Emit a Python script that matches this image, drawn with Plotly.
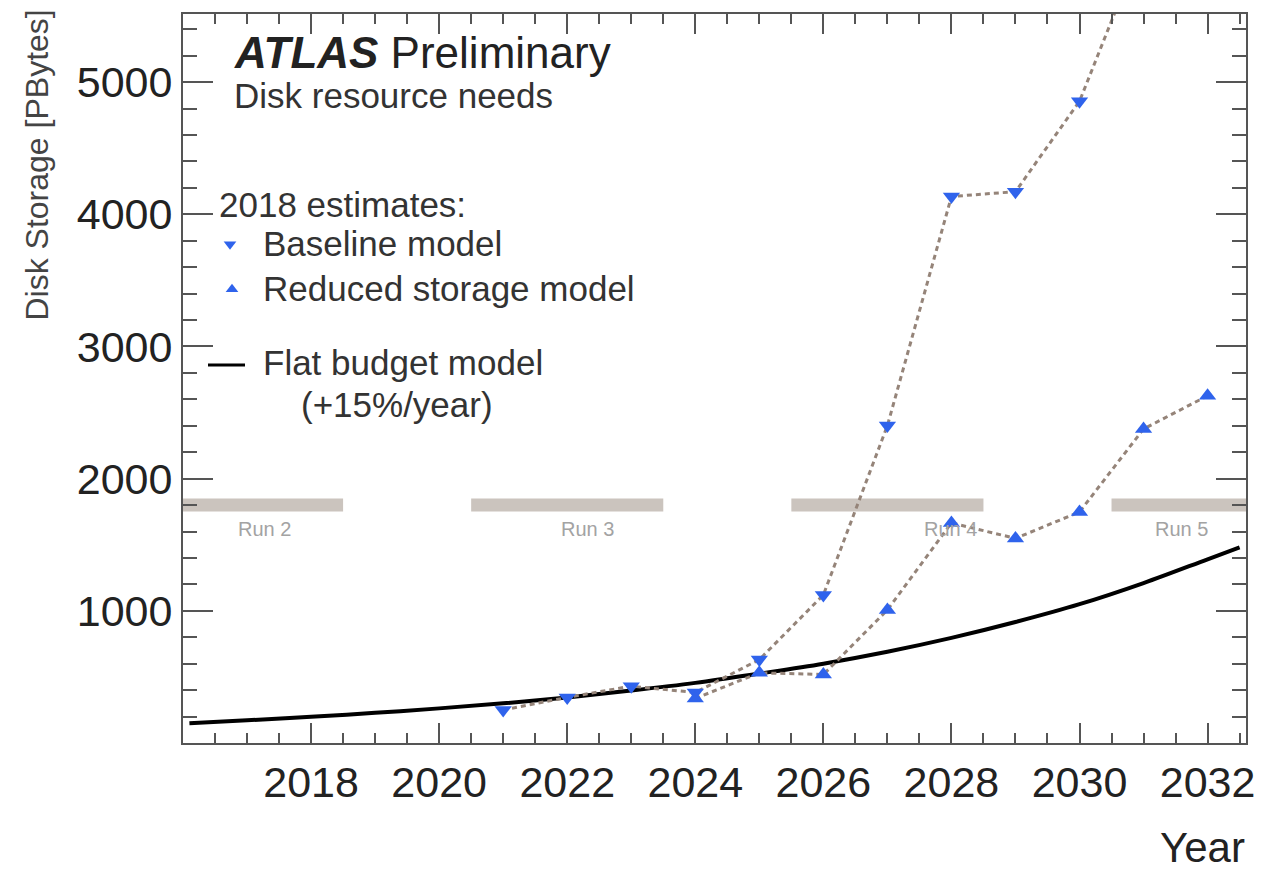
import plotly.graph_objects as go

# ---------------- data ----------------
base_years = [2021, 2022, 2023, 2024, 2025, 2026, 2027, 2028, 2029, 2030, 2031]
base_vals = [250, 345, 430, 382, 631, 1120, 2401, 4134, 4171, 4855, 6070]

red_years = [2024, 2025, 2026, 2027, 2028, 2029, 2030, 2031, 2032]
red_vals = [337, 531, 518, 1007, 1665, 1548, 1748, 2376, 2627]

flat_years = [2016.1, 2017, 2018, 2019, 2020, 2021, 2022, 2023, 2024, 2025,
              2026, 2027, 2028, 2029, 2030, 2031, 2032, 2032.5]
flat_vals = [150, 172, 198, 228, 262, 300, 345, 397, 455, 525,
             600, 690, 795, 915, 1050, 1210, 1390, 1480]

run_names = ["Run 2", "Run 3", "Run 4", "Run 5"]
run_start = [2016.0, 2020.5, 2025.5, 2030.5]
run_end = [2018.5, 2023.5, 2028.5, 2032.6]
run_label_x = [2017.28, 2022.31, 2027.99, 2031.59]
run_bar_lo, run_bar_hi = 1752, 1850
run_label_y = 1620

x_ticks = [2018, 2020, 2022, 2024, 2026, 2028, 2030, 2032]
y_ticks = [1000, 2000, 3000, 4000, 5000]

# ---------------- figure ----------------
OFF = 8  # page body margin
W, H = 1255, 862
L, R, T, B = 175, 17, 4, 127
pw, ph = W - L - R, H - T - B

def px(x):
    return (x - OFF - L) / pw

def py(y):
    return (OFF + H - B - y) / ph

FONT = "Liberation Sans, Arial, Helvetica, sans-serif"
BLUE = "#2f63ec"
DASH = "#958479"
AX = "#555555"

fig = go.Figure()

fig.add_trace(go.Scatter(x=flat_years, y=flat_vals, mode="lines",
                         line=dict(color="black", width=4, shape="spline"),
                         showlegend=False, hoverinfo="skip"))

fig.add_trace(go.Scatter(x=base_years, y=base_vals, mode="lines",
                         line=dict(color=DASH, width=3, dash="5px,4px"),
                         showlegend=False))
fig.add_trace(go.Scatter(x=red_years, y=red_vals, mode="lines",
                         line=dict(color=DASH, width=3, dash="5px,4px"),
                         showlegend=False))
fig.add_trace(go.Scatter(x=base_years, y=base_vals, mode="markers",
                         marker=dict(symbol="triangle-down", size=15, color=BLUE),
                         name="Baseline model", showlegend=False))
fig.add_trace(go.Scatter(x=red_years, y=red_vals, mode="markers",
                         marker=dict(symbol="triangle-up", size=15, color=BLUE),
                         name="Reduced storage model", showlegend=False))

# legend sample markers on an overlay axis measured in page pixels
fig.add_trace(go.Scatter(x=[230], y=[243], mode="markers", xaxis="x2", yaxis="y2",
                         marker=dict(symbol="triangle-down", size=11, color=BLUE),
                         showlegend=False, hoverinfo="skip", cliponaxis=False))
fig.add_trace(go.Scatter(x=[232], y=[288], mode="markers", xaxis="x2", yaxis="y2",
                         marker=dict(symbol="triangle-up", size=11, color=BLUE),
                         showlegend=False, hoverinfo="skip", cliponaxis=False))

shapes = []
for s, e in zip(run_start, run_end):
    shapes.append(dict(type="rect", xref="x", yref="y", x0=s, x1=e,
                       y0=run_bar_lo, y1=run_bar_hi, fillcolor="#cbc4be",
                       line=dict(width=0), layer="below"))
# legend line sample
shapes.append(dict(type="line", xref="paper", yref="paper",
                   x0=px(208), x1=px(245), y0=py(364), y1=py(364),
                   line=dict(color="black", width=3)))

annotations = []
for name, lx in zip(run_names, run_label_x):
    annotations.append(dict(x=lx, y=run_label_y, xref="x", yref="y", text=name,
                            showarrow=False, font=dict(family=FONT, size=20, color="#a3a3a3")))

def txt(x, y, text, size, color="#222222", anchor="left"):
    annotations.append(dict(x=px(x), y=py(y), xref="paper", yref="paper", text=text,
                            showarrow=False, xanchor=anchor, yanchor="middle",
                            font=dict(family=FONT, size=size, color=color)))

txt(232, 51, "<b><i>ATLAS</i></b> Preliminary", 44)
txt(232, 94, "Disk resource needs", 35, "#333333")
txt(217, 203, "2018 estimates:", 35, "#333333")
txt(261, 242, "Baseline model", 35, "#333333")
txt(261, 287, "Reduced storage model", 35, "#333333")
txt(261, 361, "Flat budget model", 35, "#333333")
txt(299, 404, "(+15%/year)", 35, "#333333")

# axis titles
annotations.append(dict(x=px(1247), y=py(848), xref="paper", yref="paper", text="Year",
                        showarrow=False, xanchor="right", yanchor="middle",
                        font=dict(family=FONT, size=42, color="#222222")))
annotations.append(dict(x=px(37), y=py(6), xref="paper", yref="paper",
                        text="Disk Storage [PBytes]", textangle=-90,
                        showarrow=False, xanchor="center", yanchor="top",
                        font=dict(family=FONT, size=32, color="#444444")))

fig.update_layout(
    width=W, height=H,
    margin=dict(l=L, r=R, t=T, b=B, pad=0),
    paper_bgcolor="white", plot_bgcolor="white",
    showlegend=False,
    shapes=shapes, annotations=annotations,
    xaxis=dict(range=[2016.0, 2032.6], tickvals=x_ticks, ticktext=[str(v) for v in x_ticks],
               ticks="inside", ticklen=20, tickwidth=1.5, tickcolor=AX,
               showline=True, linecolor=AX, linewidth=2, mirror="ticks",
               showgrid=False, zeroline=False,
               tickfont=dict(family=FONT, size=43, color="#222222"),
               minor=dict(dtick=0.5, tick0=2016, ticks="inside", ticklen=10,
                          tickwidth=1.5, tickcolor=AX, showgrid=False)),
    yaxis=dict(range=[0, 5515], tickvals=y_ticks, ticktext=[str(v) for v in y_ticks],
               ticks="inside", ticklen=30, tickwidth=1.5, tickcolor=AX,
               showline=True, linecolor=AX, linewidth=2, mirror="ticks",
               showgrid=False, zeroline=False,
               tickfont=dict(family=FONT, size=43, color="#222222"),
               minor=dict(dtick=200, tick0=0, ticks="inside", ticklen=14,
                          tickwidth=1.5, tickcolor=AX, showgrid=False)),
    xaxis2=dict(overlaying="x", range=[OFF + L, OFF + L + pw], visible=False,
                showgrid=False, zeroline=False),
    yaxis2=dict(overlaying="y", range=[OFF + T + ph, OFF + T], visible=False,
                showgrid=False, zeroline=False),
)

fig.write_html("out.html")
